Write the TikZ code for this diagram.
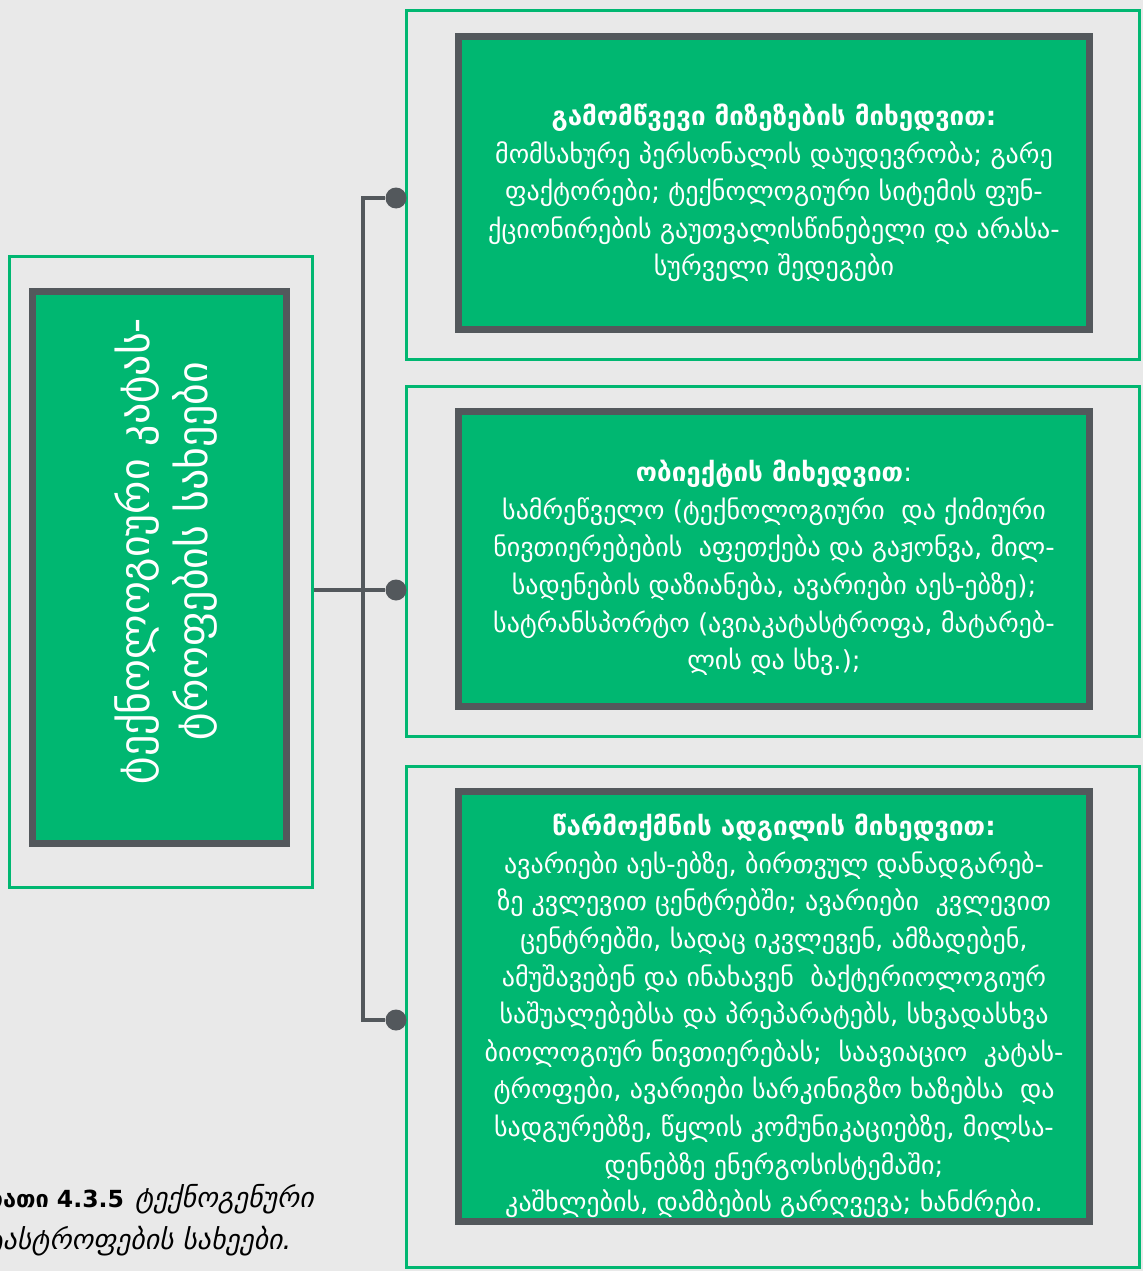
\documentclass[tikz,border=0pt]{standalone}
\usepackage{fontspec}
\setmainfont{DejaVu Sans}
\definecolor{KatGreen}{HTML}{00B771}
\definecolor{KatDark}{HTML}{53585C}
\definecolor{KatBack}{HTML}{E9E9E9}

\begin{document}
\begin{tikzpicture}[x=0.02cm,y=-0.02cm,
  frame/.style={draw=KatGreen,line width=0.06cm,minimum width=14.68cm,inner sep=0pt},
  card/.style={draw=KatDark,fill=KatGreen,line width=0.14cm,inner sep=0pt,
    minimum width=12.62cm},
  body/.style={text=white,align=center,inner sep=0pt,
    font=\fontsize{14.8}{21.4}\selectfont},
  dot/.style={circle,fill=KatDark,minimum size=0.42cm,inner sep=0pt},
  conn/.style={KatDark,line width=0.08cm}]
  \useasboundingbox (0,0) rectangle (1143,1271);
  \fill[KatBack] (0,0) rectangle (1143,1271);
  \clip (0,0) rectangle (1143,1271);
  % მარცხენა ბლოკი
  \node[frame,minimum width=6.08cm,minimum height=12.64cm] (f0) at (161,572) {};
  \node[card,minimum width=5.08cm,minimum height=11.04cm] (c0) at (159.5,567.5) {};
  \node[body,rotate=90,font=\fontsize{23.8}{33}\selectfont] (t0) at (166,551)
    {ტექნოლოგიური კატას-\\ტროფების სახეები};
  % მარჯვენა ბლოკები
  \node[frame,minimum height=7cm] (f1) at (773,185) {};
  \node[card,minimum height=5.86cm] (c1) at (774,183) {};
  \node[body] (t1) at (774,193)
    {\textbf{გამომწვევი მიზეზების მიხედვით:}\\
     მომსახურე პერსონალის დაუდევრობა; გარე\\
     ფაქტორები; ტექნოლოგიური სიტემის ფუნ-\\
     ქციონირების გაუთვალისწინებელი და არასა-\\
     სურველი შედეგები};
  \node[frame,minimum height=7.02cm] (f2) at (773,561.5) {};
  \node[card,minimum height=5.9cm] (c2) at (774,559) {};
  \node[body] (t2) at (774,568)
    {\textbf{ობიექტის მიხედვით}:\\
     სამრეწველო (ტექნოლოგიური\ \ და ქიმიური\\
     ნივთიერებების\ \ აფეთქება და გაჟონვა, მილ-\\
     სადენების დაზიანება, ავარიები აეს-ებზე);\\
     სატრანსპორტო (ავიაკატასტროფა, მატარებ-\\
     ლის და სხვ.);};
  \node[frame,minimum height=10.04cm] (f3) at (773,1017) {};
  \node[card,minimum height=8.6cm] (c3) at (774,1006.5) {};
  \node[body] (t3) at (774,1016)
    {\textbf{წარმოქმნის ადგილის მიხედვით:}\\
     ავარიები აეს-ებზე, ბირთვულ დანადგარებ-\\
     ზე კვლევით ცენტრებში; ავარიები\ \ კვლევით\\
     ცენტრებში, სადაც იკვლევენ, ამზადებენ,\\
     ამუშავებენ და ინახავენ\ \ ბაქტერიოლოგიურ\\
     საშუალებებსა და პრეპარატებს, სხვადასხვა\\
     ბიოლოგიურ ნივთიერებას;\ \ საავიაციო\ \ კატას-\\
     ტროფები, ავარიები სარკინიგზო ხაზებსა\ \ და\\
     სადგურებზე, წყლის კომუნიკაციებზე, მილსა-\\
     დენებზე ენერგოსისტემაში;\\
     კაშხლების, დამბების გარღვევა; ხანძრები.};
  % შემაერთებლები
  \node[dot] (d1) at (396,198) {};
  \node[dot] (d2) at (396,590) {};
  \node[dot] (d3) at (396,1020) {};
  \coordinate (sp) at (363,590);
  \draw[conn] (d1) -| (sp) |- (d3);
  \draw[conn] (f0.east |- d2) -- (d2);
  % წარწერა
  \node[anchor=north west,align=left,inner sep=0pt,
    font=\fontsize{15.8}{24}\selectfont] (cap) at (-44,1184)
    {{\fontsize{13.4}{24}\selectfont\textbf{სურათი 4.3.5}}\hspace{0.4em}\textit{ტექნოგენური}\\
     \textit{კატასტროფების სახეები.}};
\end{tikzpicture}
\end{document}
